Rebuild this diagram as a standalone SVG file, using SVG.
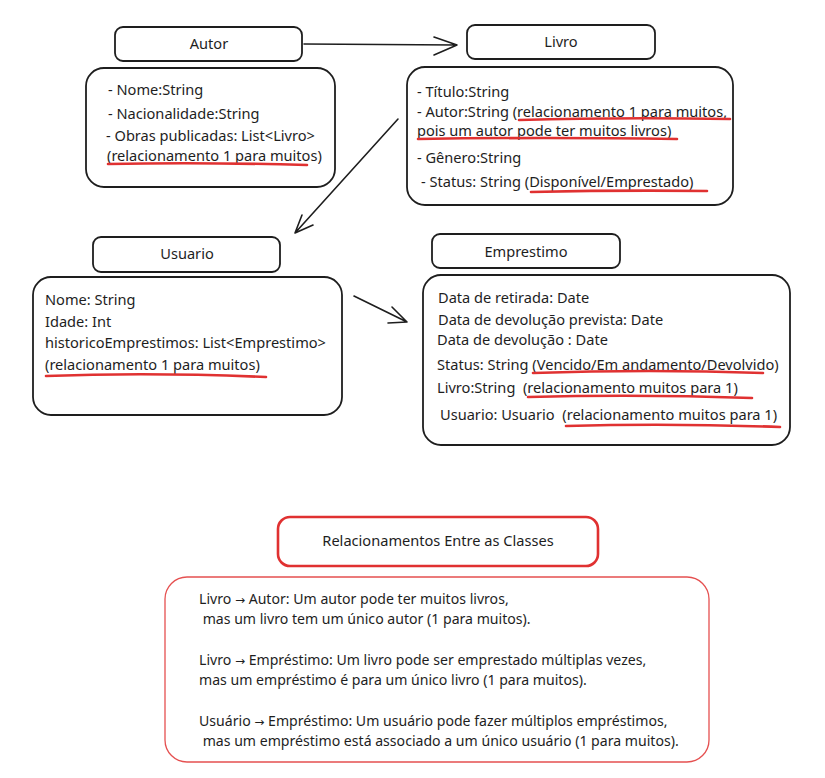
<svg xmlns="http://www.w3.org/2000/svg" width="825" height="778" viewBox="0 0 825 778">
<style>
.box{fill:none;stroke:#1e1e1e;stroke-width:1.8}
.t{font-family:"Noto Sans","Open Sans",sans-serif;font-size:14.6px;fill:#1e1e1e;white-space:pre}
.r{font-family:"Noto Sans","Open Sans",sans-serif;font-size:14.1px;fill:#1e1e1e;white-space:pre}
.h{font-family:"Noto Sans","Open Sans",sans-serif;font-size:14.6px;fill:#1e1e1e;text-anchor:middle}
.a{font-family:"DejaVu Sans",sans-serif;font-size:12px}
.ul{fill:none;stroke:#e03131;stroke-width:2.6;stroke-linecap:round}
.ar{fill:none;stroke:#1e1e1e;stroke-width:1.6;stroke-linecap:round;stroke-linejoin:round}
</style>
<rect width="825" height="778" fill="#ffffff"/>
<g id="autor-header"><rect class="box" x="115" y="27" width="187" height="34" rx="8"/><text class="h" x="209" y="49">Autor</text></g>
<g id="autor-body"><rect class="box" x="86" y="68" width="249" height="119" rx="18"/>
<text class="t" x="108" y="95">- Nome:String</text>
<text class="t" x="108" y="119">- Nacionalidade:String</text>
<text class="t" x="106" y="141">- Obras publicadas: List&lt;Livro&gt;</text>
<text class="t" x="107" y="161">(relacionamento 1 para muitos)</text>
<path class="ul" d="M108 164 Q200 162 307 165"/></g>
<g id="livro-header"><rect class="box" x="467" y="25" width="188" height="34" rx="8"/><text class="h" x="561" y="47">Livro</text></g>
<g id="livro-body"><rect class="box" x="407" y="67" width="326" height="138" rx="18"/>
<text class="t" x="417" y="97">- Título:String</text>
<text class="t" x="417" y="117">- Autor:String (relacionamento 1 para muitos,</text>
<text class="t" x="417" y="136">pois um autor pode ter muitos livros)</text>
<text class="t" x="417" y="163">- Gênero:String</text>
<text class="t" x="421" y="187">- Status: String (Disponível/Emprestado)</text>
<path class="ul" d="M519 120 Q620 117 730 119"/>
<path class="ul" d="M418 139 Q540 137 677 139"/>
<path class="ul" d="M531 192 Q620 190 707 191"/></g>
<g id="usuario-header"><rect class="box" x="93" y="237" width="187" height="35" rx="8"/><text class="h" x="187" y="259">Usuario</text></g>
<g id="usuario-body"><rect class="box" x="33" y="277" width="309" height="138" rx="18"/>
<text class="t" x="45" y="305">Nome: String</text>
<text class="t" x="45" y="327">Idade: Int</text>
<text class="t" x="45" y="348">historicoEmprestimos: List&lt;Emprestimo&gt;</text>
<text class="t" x="45" y="370">(relacionamento 1 para muitos)</text>
<path class="ul" d="M46 376 Q150 372 266 377"/></g>
<g id="emprestimo-header"><rect class="box" x="432" y="234" width="188" height="34" rx="8"/><text class="h" x="526" y="257">Emprestimo</text></g>
<g id="emprestimo-body"><rect class="box" x="423" y="275" width="367" height="170" rx="18"/>
<text class="t" x="438" y="303">Data de retirada: Date</text>
<text class="t" x="438" y="325">Data de devolução prevista: Date</text>
<text class="t" x="437" y="345">Data de devolução : Date</text>
<text class="t" x="437" y="370">Status: String (Vencido/Em andamento/Devolvido)</text>
<text class="t" x="437" y="393">Livro:String  (relacionamento muitos para 1)</text>
<text class="t" x="440" y="420">Usuario: Usuario  (relacionamento muitos para 1)</text>
<path class="ul" d="M533 373 Q650 369 763 373"/>
<path class="ul" d="M528 397 Q640 394 752 398"/>
<path class="ul" d="M566 426 Q670 423 780 427"/></g>
<g id="rel-header"><rect x="278" y="517" width="320" height="49" rx="12" fill="none" stroke="#e03131" stroke-width="2.6"/><text class="h" x="438" y="546">Relacionamentos Entre as Classes</text></g>
<g id="rel-body"><rect x="165" y="577" width="544" height="185" rx="22" fill="none" stroke="#e03131" stroke-width="1.3" stroke-opacity="0.85"/>
<text class="r" x="199" y="604">Livro <tspan class="a">→</tspan> Autor: Um autor pode ter muitos livros,</text>
<text class="r" x="199" y="624"> mas um livro tem um único autor (1 para muitos).</text>
<text class="r" x="199" y="665">Livro <tspan class="a">→</tspan> Empréstimo: Um livro pode ser emprestado múltiplas vezes,</text>
<text class="r" x="199" y="685">mas um empréstimo é para um único livro (1 para muitos).</text>
<text class="r" x="199" y="726">Usuário <tspan class="a">→</tspan> Empréstimo: Um usuário pode fazer múltiplos empréstimos,</text>
<text class="r" x="199" y="746"> mas um empréstimo está associado a um único usuário (1 para muitos).</text></g>
<g id="connectors">
<path class="ar" d="M304 44 L457 45 M434 37 L457 45 L434 55"/>
<path class="ar" d="M398 119 L295 233 M313 225 L295 233 L302 215"/>
<path class="ar" d="M354 296 L407 322 M392 307 L407 322 L388 323"/>
</g>
</svg>
